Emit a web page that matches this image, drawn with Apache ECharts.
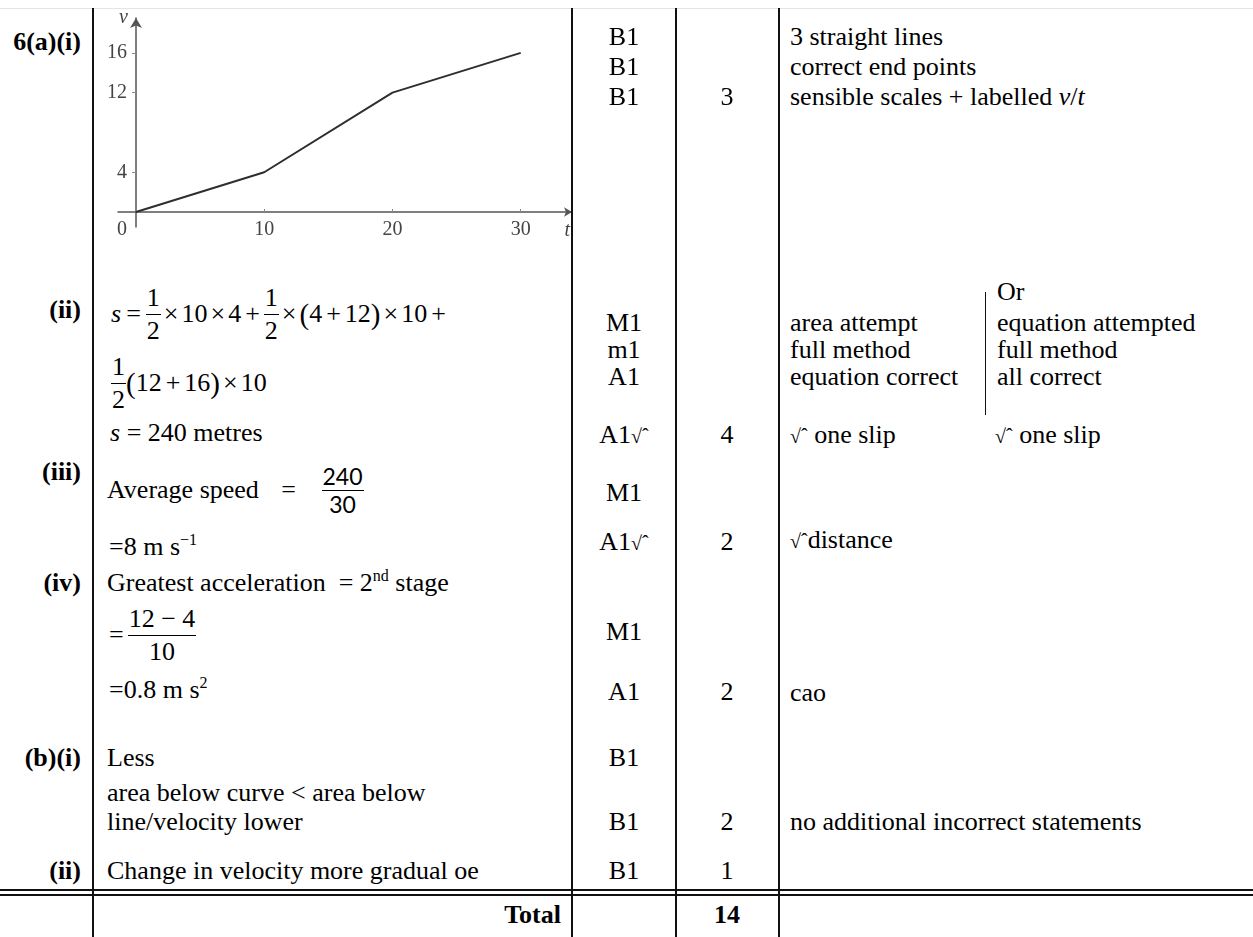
<!DOCTYPE html>
<html>
<head>
<meta charset="utf-8">
<script src="https://cdn.jsdelivr.net/npm/echarts@6/dist/echarts.min.js"></script>
<style>
html,body{margin:0;padding:0;background:#fff;width:1253px;height:937px;overflow:hidden;}
#page{position:relative;width:1253px;height:937px;font-family:"Liberation Serif","Times New Roman",serif;font-size:26px;color:#000;}
.t{position:absolute;white-space:pre;line-height:30px;height:30px;z-index:3;}
.b{font-weight:bold;}
.c1{right:1172px;text-align:right;}
.c3{left:564px;width:120px;text-align:center;}
.c4{left:677px;width:100px;text-align:center;}
.m{position:absolute;display:flex;align-items:center;height:60px;white-space:pre;z-index:3;}
.m > span{line-height:30px;}
.frac{display:inline-flex;flex-direction:column;align-items:center;}
.frac > span{display:block;line-height:32px;text-align:center;padding:0 1px;}
.frac > span.num{border-bottom:1.3px solid #000;}
.x{margin:0 3px;}
.p{margin:0 4px;}
.eq{margin:0 5px;}
.par{font-size:29px;}
.sup{position:relative;top:-10px;font-size:16px;}
.chk{font-size:20px;}
.vl{position:absolute;width:1.5px;background:#111;z-index:4;}
.hl{position:absolute;height:1.5px;background:#111;z-index:4;}
#chart{position:absolute;left:100px;top:0;width:500px;height:250px;z-index:1;}
</style>
</head>
<body>
<div id="page">
  <div id="chart"></div>

  <!-- rules -->
  <div style="position:absolute;left:0;top:8px;width:1253px;height:1px;background:#e4e4e4;"></div>
  <div class="vl" style="left:92px;top:8px;height:929px;"></div>
  <div class="vl" style="left:571px;top:8px;height:929px;"></div>
  <div class="vl" style="left:675px;top:8px;height:929px;"></div>
  <div class="vl" style="left:778px;top:8px;height:929px;"></div>
  <div class="vl" style="left:985px;top:292px;height:123px;width:1.2px;"></div>
  <div class="hl" style="left:0;top:889px;width:1253px;"></div>
  <div class="hl" style="left:0;top:894px;width:1253px;"></div>

  <!-- column 1 -->
  <div class="t b c1" style="top:27px;">6(a)(i)</div>
  <div class="t b c1" style="top:295px;">(ii)</div>
  <div class="t b c1" style="top:457px;">(iii)</div>
  <div class="t b c1" style="top:568px;">(iv)</div>
  <div class="t b c1" style="top:743px;">(b)(i)</div>
  <div class="t b c1" style="top:856px;">(ii)</div>

  <!-- column 2 -->
  <div class="m" style="left:111px;top:284px;"><span><i>s</i></span><span class="eq">=</span><span class="frac"><span class="num">1</span><span>2</span></span><span class="x">×</span><span>10</span><span class="x">×</span><span>4</span><span class="p">+</span><span class="frac"><span class="num">1</span><span>2</span></span><span class="x">×</span><span class="par">(</span><span>4</span><span class="p">+</span><span>12</span><span class="par">)</span><span class="x">×</span><span>10</span><span class="p">+</span></div>
  <div class="m" style="left:111px;top:353px;"><span class="frac"><span class="num">1</span><span>2</span></span><span class="par">(</span><span>12</span><span class="p">+</span><span>16</span><span class="par">)</span><span class="x">×</span><span>10</span></div>
  <div class="t" style="left:110px;top:418px;"><i>s</i> = 240 metres</div>
  <div class="m" style="left:107px;top:460px;"><span>Average speed  </span><span style="margin-left:3px;"> = </span><span style="margin-left:6px;">  </span><span class="frac" style="font-family:Lato,'Open Sans',sans-serif;font-size:23px;"><span class="num" style="line-height:27px;">240</span><span style="line-height:27px;">30</span></span></div>
  <div class="t" style="left:109px;top:532px;">=8 m s<span class="sup">−1</span></div>
  <div class="t" style="left:107px;top:568px;">Greatest acceleration  = 2<span class="sup">nd</span> stage</div>
  <div class="m" style="left:109px;top:605px;"><span style="margin-right:4px;">=</span><span class="frac"><span class="num">12 − 4</span><span>10</span></span></div>
  <div class="t" style="left:109px;top:675px;">=0.8 m s<span class="sup">2</span></div>
  <div class="t" style="left:107px;top:743px;">Less</div>
  <div class="t" style="left:107px;top:778px;">area below curve &lt; area below</div>
  <div class="t" style="left:107px;top:807px;">line/velocity lower</div>
  <div class="t" style="left:107px;top:856px;">Change in velocity more gradual oe</div>
  <div class="t b" style="right:692px;top:900px;">Total</div>

  <!-- column 3 -->
  <div class="t c3" style="top:22px;">B1</div>
  <div class="t c3" style="top:52px;">B1</div>
  <div class="t c3" style="top:82px;">B1</div>
  <div class="t c3" style="top:308px;">M1</div>
  <div class="t c3" style="top:335px;">m1</div>
  <div class="t c3" style="top:362px;">A1</div>
  <div class="t c3" style="top:420px;">A1<span class="chk">√ˆ</span></div>
  <div class="t c3" style="top:478px;">M1</div>
  <div class="t c3" style="top:527px;">A1<span class="chk">√ˆ</span></div>
  <div class="t c3" style="top:617px;">M1</div>
  <div class="t c3" style="top:677px;">A1</div>
  <div class="t c3" style="top:743px;">B1</div>
  <div class="t c3" style="top:807px;">B1</div>
  <div class="t c3" style="top:856px;">B1</div>

  <!-- column 4 -->
  <div class="t c4" style="top:82px;">3</div>
  <div class="t c4" style="top:420px;">4</div>
  <div class="t c4" style="top:527px;">2</div>
  <div class="t c4" style="top:677px;">2</div>
  <div class="t c4" style="top:807px;">2</div>
  <div class="t c4" style="top:856px;">1</div>
  <div class="t c4 b" style="top:900px;">14</div>

  <!-- column 5 -->
  <div class="t" style="left:790px;top:22px;">3 straight lines</div>
  <div class="t" style="left:790px;top:52px;">correct end points</div>
  <div class="t" style="left:790px;top:82px;">sensible scales + labelled <i>v</i>/<i>t</i></div>
  <div class="t" style="left:997px;top:277px;">Or</div>
  <div class="t" style="left:790px;top:308px;">area attempt</div>
  <div class="t" style="left:790px;top:335px;">full method</div>
  <div class="t" style="left:790px;top:362px;">equation correct</div>
  <div class="t" style="left:997px;top:308px;">equation attempted</div>
  <div class="t" style="left:997px;top:335px;">full method</div>
  <div class="t" style="left:997px;top:362px;">all correct</div>
  <div class="t" style="left:790px;top:420px;"><span class="chk">√ˆ</span> one slip</div>
  <div class="t" style="left:995px;top:420px;"><span class="chk">√ˆ</span> one slip</div>
  <div class="t" style="left:790px;top:525px;"><span class="chk">√ˆ</span>distance</div>
  <div class="t" style="left:790px;top:678px;">cao</div>
  <div class="t" style="left:790px;top:807px;">no additional incorrect statements</div>
</div>

<script>
// velocity–time graph data
const tValues = [0, 10, 20, 30];
const vValues = [0, 4, 12, 16];
const xTickLabels = [0, 10, 20, 30];
const yTickLabels = [4, 12, 16];

const SERIF = '"Liberation Serif","Times New Roman",serif';
const seriesData = tValues.map((t, i) => [t, vValues[i]]);

const chart = echarts.init(document.getElementById('chart'), null, {renderer: 'canvas'});
chart.setOption({
  animation: false,
  grid: {left: 18, right: 28, top: 18, bottom: 23, containLabel: false, outerBoundsMode: 'none'},
  xAxis: {
    type: 'value', min: -1.4, max: 34,
    position: 'bottom', offset: -15,
    name: 't', nameLocation: 'end', nameGap: -2,
    nameTextStyle: {fontFamily: SERIF, fontStyle: 'italic', fontSize: 20, color: '#444',
      align: 'right', verticalAlign: 'top', padding: [9, 0, 0, 0]},
    axisLine: {onZero: false, symbol: ['none', 'arrow'], symbolSize: [7, 8],
      lineStyle: {color: '#555', width: 1.5}},
    axisTick: {show: true, inside: true, length: 3, customValues: xTickLabels,
      lineStyle: {color: '#888', width: 1}},
    axisLabel: {customValues: xTickLabels, margin: 8, fontFamily: SERIF, fontSize: 20, color: '#444',
      formatter: function (v) { return v === xTickLabels[0] ? '{o|' + v + '}' : String(v); },
      rich: {o: {padding: [0, 28, 0, 0], fontFamily: SERIF, fontSize: 20, color: '#444'}}},
    splitLine: {show: false}
  },
  yAxis: {
    type: 'value', min: -1.5, max: 19.5,
    position: 'left', offset: -18,
    name: 'v', nameLocation: 'end', nameGap: 0,
    nameTextStyle: {fontFamily: SERIF, fontStyle: 'italic', fontSize: 20, color: '#444',
      align: 'right', verticalAlign: 'middle', padding: [6, 8, 0, 0]},
    axisLine: {onZero: false, symbol: ['none', 'arrow'], symbolSize: [9, 10],
      lineStyle: {color: '#555', width: 1.5}},
    axisTick: {show: true, inside: false, length: 4, customValues: yTickLabels,
      lineStyle: {color: '#888', width: 1}},
    axisLabel: {customValues: yTickLabels, margin: 9, fontFamily: SERIF, fontSize: 20, color: '#444'},
    splitLine: {show: false}
  },
  series: [{
    type: 'line',
    data: seriesData,
    symbol: 'none',
    lineStyle: {color: '#2e2e2e', width: 2},
    z: 5
  }]
});
</script>
</body>
</html>
